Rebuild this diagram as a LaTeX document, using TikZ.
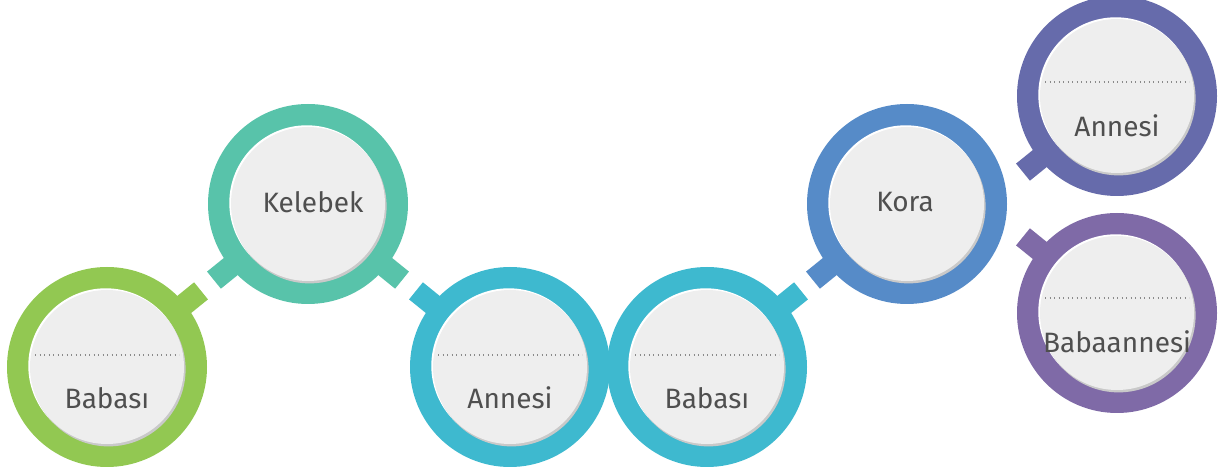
\documentclass[tikz,border=0pt]{standalone}
\usepackage{fontspec}
\setmainfont{Fira Sans}
\usetikzlibrary{calc}
\definecolor{cgreen}{HTML}{92C852}
\definecolor{cteal}{HTML}{58C3AA}
\definecolor{ccyan}{HTML}{3EB9CF}
\definecolor{cblue}{HTML}{568BC8}
\definecolor{cindigo}{HTML}{666BAB}
\definecolor{cpurple}{HTML}{7F6AA7}
\definecolor{cinner}{HTML}{EEEEEE}
\definecolor{cshade}{HTML}{C9C9C9}
\definecolor{ctext}{HTML}{4F4F4F}
\definecolor{cdots}{HTML}{8A8A8A}
\begin{document}
\begin{tikzpicture}[x=1pt,y=1pt,
  ring/.style={circle,inner sep=0pt,minimum size=200pt},
  lbl/.style={text=ctext,font=\fontsize{28}{30}\selectfont,inner sep=0pt}]
\useasboundingbox (0,0) rectangle (1224,474);
% ring circle nodes
\node[ring,fill=cgreen]  (g)  at (107,107) {};
\node[ring,fill=cteal]   (k)  at (308,270) {};
\node[ring,fill=ccyan]   (a1) at (510,107) {};
\node[ring,fill=ccyan]   (b2) at (707,107) {};
\node[ring,fill=cblue]   (ko) at (907,270) {};
\node[ring,fill=cindigo] (a3) at (1117,378) {};
\node[ring,fill=cpurple] (bb) at (1117,161) {};
% stubs
\newcommand{\stub}[3]{\draw[line width=22pt,#1] ($(#2)+(#3:85pt)$) -- ($(#2)+(#3:121pt)$);}
\stub{cgreen}{g}{39}
\stub{cteal}{k}{219}
\stub{cteal}{k}{321}
\stub{ccyan}{a1}{141}
\stub{ccyan}{b2}{39}
\stub{cblue}{ko}{219}
\stub{cindigo}{a3}{219}
\stub{cpurple}{bb}{141}
% inner discs
\foreach \n in {g,k,a1,b2,ko,a3,bb}{
  \fill[white] ($(\n)+(-1.2,1.2)$) circle (77.5pt);
  \fill[cshade] ($(\n)+(1.6,-2.4)$) circle (77pt);
  \fill[cinner] (\n) circle (77pt);
}
% dotted separators
\foreach \n/\d in {g/12,a1/12,b2/12,a3/14,bb/15}{
  \draw[cdots,line width=1.1pt,dash pattern=on 1.1pt off 3.4pt] ($(\n)+(-72,\d)$) -- ($(\n)+(72,\d)$);
}
% labels
\node[lbl] (tg)  at ($(g)+(0,-31)$)  {Babası};
\node[lbl] (tk)  at ($(k)+(5,2)$)    {Kelebek};
\node[lbl] (ta1) at ($(a1)+(0,-31)$) {Annesi};
\node[lbl] (tb2) at ($(b2)+(0,-31)$) {Babası};
\node[lbl] (tko) at ($(ko)+(-2,2)$)  {Kora};
\node[lbl] (ta3) at ($(a3)+(0,-30)$) {Annesi};
\node[lbl] (tbb) at ($(bb)+(0,-29)$) {Babaannesi};
\end{tikzpicture}
\end{document}
